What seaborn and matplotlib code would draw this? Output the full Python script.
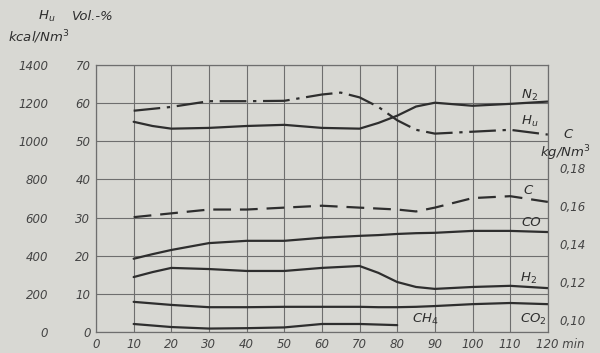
import numpy as np
import pandas as pd
import matplotlib
matplotlib.use("Agg")
import matplotlib.pyplot as plt
import matplotlib.transforms as mtrans
import seaborn as sns

# ---- data ----
t_main = [10, 15, 20, 30, 40, 50, 60, 65, 70, 75, 80, 85, 90, 100, 110, 120]
n2_vol = [55.1, 54.0, 53.3, 53.5, 54.0, 54.3, 53.5, 53.4, 53.3, 54.8, 56.7, 59.1, 60.1, 59.3, 59.8, 60.4]
hu_kcal = [1160, 1170, 1180, 1210, 1210, 1212, 1245, 1255, 1230, 1180, 1110, 1060, 1040, 1050, 1060, 1035]

t_c = [10, 20, 30, 40, 50, 60, 70, 80, 85, 90, 100, 110, 120]
c_kg = [0.154, 0.156, 0.158, 0.158, 0.159, 0.160, 0.159, 0.158, 0.157, 0.159, 0.164, 0.165, 0.162]

t_gas = [10, 15, 20, 30, 40, 50, 60, 70, 75, 80, 85, 90, 100, 110, 120]
co_vol = [19.2, 20.4, 21.5, 23.3, 23.9, 23.9, 24.7, 25.2, 25.4, 25.7, 25.9, 26.0, 26.5, 26.5, 26.2]
h2_vol = [14.4, 15.7, 16.8, 16.5, 16.0, 16.0, 16.8, 17.3, 15.5, 13.1, 11.8, 11.3, 11.8, 12.1, 11.5]
co2_vol = [7.9, 7.5, 7.1, 6.5, 6.5, 6.6, 6.6, 6.6, 6.5, 6.5, 6.6, 6.8, 7.3, 7.6, 7.3]

t_ch4 = [10, 20, 30, 40, 50, 60, 70, 80]
ch4_vol = [2.1, 1.3, 0.9, 1.0, 1.2, 2.1, 2.1, 1.8]

x_ticks = [0, 10, 20, 30, 40, 50, 60, 70, 80, 90, 100, 110, 120]
vol_ticks = [0, 10, 20, 30, 40, 50, 60, 70]
kcal_ticks = [0, 200, 400, 600, 800, 1000, 1200, 1400]
c_ticks = [0.10, 0.12, 0.14, 0.16, 0.18]

# ---- styling ----
BG = "#d8d8d3"
INK = "#2e2e2e"
GRID = "#6e6e6e"
sns.set_theme(style="white")
plt.rcParams["font.family"] = ["DejaVu Sans"]

fig = plt.figure(figsize=(6.0, 3.53), dpi=100, facecolor=BG)
ax = fig.add_axes([0.16, 0.0595, 0.753, 0.7565])
ax.set_facecolor(BG)
ax.set_xlim(0, 120)
ax.set_ylim(0, 70)
ax.set_xticks(x_ticks)
ax.set_yticks(vol_ticks)
ax.grid(True, color=GRID, linewidth=0.8)
for s in ax.spines.values():
    s.set_color(GRID)
    s.set_linewidth(0.9)
ax.tick_params(length=0, labelcolor="#444444", labelsize=8.5, pad=4)
xl = [str(v) for v in x_ticks]
xl[-1] = "120 min"
ax.set_xticklabels(xl, style="italic")
last = ax.get_xticklabels()[-1]
last.set_horizontalalignment("left")
last.set_transform(last.get_transform() + mtrans.ScaledTranslation(-12 / 100, 0, fig.dpi_scale_trans))
ax.set_yticklabels([str(v) for v in vol_ticks], style="italic")

# kcal axis labels on the far left
sec = ax.secondary_yaxis(-0.095, functions=(lambda v: v * 20, lambda h: h / 20))
sec.set_yticks(kcal_ticks)
sec.set_yticklabels([str(v) for v in kcal_ticks], style="italic")
sec.tick_params(length=0, labelcolor="#444444", labelsize=8.5)
sec.spines["left"].set_visible(False)

# volume-% curves
lw = 1.6
sns.lineplot(x=t_main, y=n2_vol, ax=ax, color=INK, linewidth=lw)
sns.lineplot(x=t_gas, y=co_vol, ax=ax, color=INK, linewidth=lw)
sns.lineplot(x=t_gas, y=h2_vol, ax=ax, color=INK, linewidth=lw)
sns.lineplot(x=t_gas, y=co2_vol, ax=ax, color=INK, linewidth=lw)
sns.lineplot(x=t_ch4, y=ch4_vol, ax=ax, color=INK, linewidth=lw)

# Hu on a kcal twin axis
axh = ax.twinx()
axh.set_ylim(0, 1400)
axh.axis("off")
sns.lineplot(x=t_main, y=hu_kcal, ax=axh, color=INK, linewidth=lw,
             linestyle=(0, (12, 3, 1.5, 3)))

# C on a kg/Nm3 twin axis (labels sit slightly above the grid lines)
axc = ax.twinx()
c0 = 0.10 - 3.1 * 0.002
axc.set_ylim(c0, c0 + 70 * 0.002)
axc.set_yticks(c_ticks)
axc.set_yticklabels([f"{v:.2f}".replace(".", ",") for v in c_ticks], style="italic")
axc.tick_params(length=0, labelcolor="#444444", labelsize=8.5, pad=8)
for s in axc.spines.values():
    s.set_visible(False)
axc.grid(False)
sns.lineplot(x=t_c, y=c_kg, ax=axc, color=INK, linewidth=lw,
             linestyle=(0, (8, 4)))
ax.set_xlim(0, 120)

# curve labels
tk = dict(color=INK, style="italic", fontsize=9.5, transform=ax.transData)
ax.text(113, 61.2, "N$_2$", **tk)
ax.text(113, 54.3, "H$_u$", **tk)
ax.text(113.5, 36.2, "C", **tk)
ax.text(113, 27.8, "CO", **tk)
ax.text(112.5, 13.2, "H$_2$", **tk)
ax.text(112.5, 2.5, "CO$_2$", **tk)
ax.text(84, 2.5, "CH$_4$", **tk)

# axis headers
fk = dict(color=INK, style="italic", fontsize=9.5, transform=fig.transFigure)
fig.text(38 / 600, 1 - 20 / 353, "H$_u$", **fk)
fig.text(72 / 600, 1 - 20 / 353, "Vol.-%", **fk)
fig.text(8 / 600, 1 - 42 / 353, "kcal/Nm$^3$", **fk)
fig.text(563 / 600, 1 - 138 / 353, "C", **fk)
fig.text(540 / 600, 1 - 157 / 353, "kg/Nm$^3$", **fk)

fig.savefig("out.png", dpi=100, facecolor=BG)
